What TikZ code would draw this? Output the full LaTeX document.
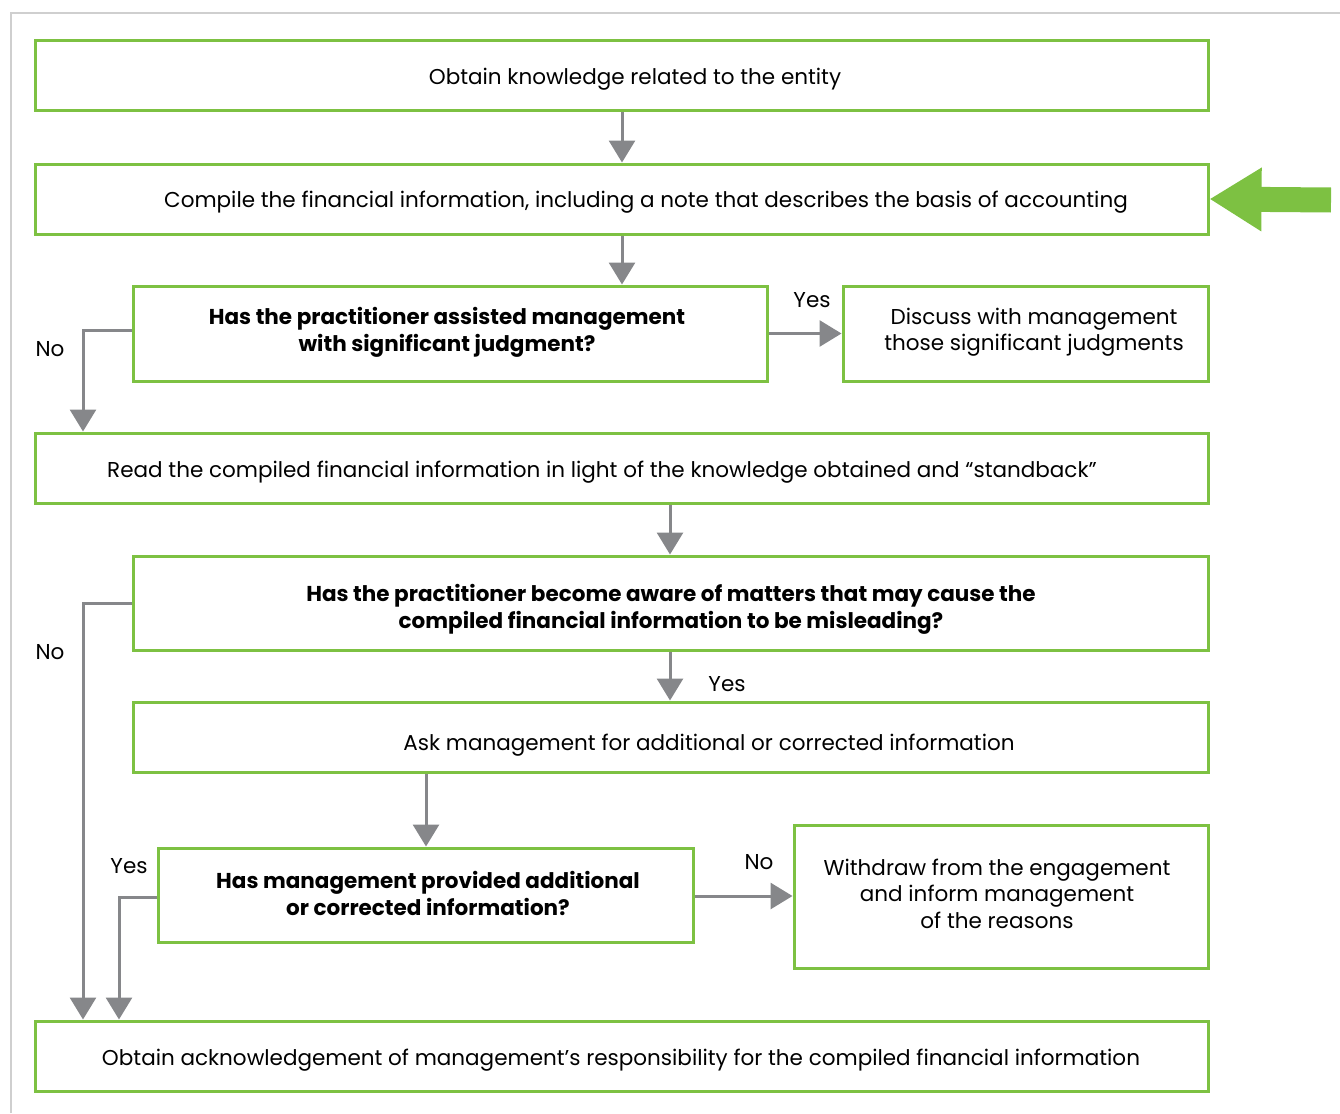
\documentclass[tikz,border=0pt]{standalone}
\usepackage{fontspec}
\setmainfont{Poppins}
\usetikzlibrary{arrows.meta}
\definecolor{grn}{HTML}{7DC142}
\definecolor{gry}{HTML}{86878A}
\definecolor{frm}{HTML}{CFCFCF}
\begin{document}
\begin{tikzpicture}[x=1pt,y=-1pt,
  box/.style={draw=grn,line width=3pt,fill=white,inner sep=0pt},
  txt/.style={inner sep=0pt,align=center,font=\fontsize{21.5}{26.5}\selectfont},
  btxt/.style={txt,font=\fontsize{21.5}{27}\selectfont\bfseries},
  arr/.style={draw=gry,line width=3pt,-{Triangle[width=26pt,length=22pt]}},
  lbl/.style={font=\fontsize{21.5}{24}\selectfont,inner sep=0pt}]
\useasboundingbox (0,0) rectangle (1340,1113);
\draw[frm,line width=2pt] (11,1113) -- (11,13) -- (1340,13);
% boxes
\node[box,minimum width=1173pt,minimum height=70pt] (b1) at (621.5,76) {};
\node[box,minimum width=1173pt,minimum height=70pt] (b2) at (621.5,199) {};
\node[box,minimum width=634pt,minimum height=95pt] (b3) at (450,333.5) {};
\node[box,minimum width=365pt,minimum height=95pt] (b4) at (1025.5,333.5) {};
\node[box,minimum width=1173pt,minimum height=70pt] (b5) at (621.5,468) {};
\node[box,minimum width=1075pt,minimum height=94pt] (b6) at (670.5,603) {};
\node[box,minimum width=1075pt,minimum height=70pt] (b7) at (670.5,737) {};
\node[box,minimum width=535pt,minimum height=94pt] (b8) at (425.5,895) {};
\node[box,minimum width=414pt,minimum height=143pt] (b9) at (1001,896.5) {};
\node[box,minimum width=1173pt,minimum height=70pt] (b10) at (621.5,1056) {};
% texts
\node[txt] (t1) at (635,79) {Obtain knowledge related to the entity};
\node[txt] (t2) at (646,202) {Compile the financial information, including a note that describes the basis of accounting};
\node[btxt] (t3) at (447,332) {Has the practitioner assisted management\\with significant judgment?};
\node[txt] (t4) at (1034,332) {Discuss with management\\those significant judgments};
\node[txt] (t5) at (602,472) {Read the compiled financial information in light of the knowledge obtained and “standback”};
\node[btxt] (t6) at (671,609) {Has the practitioner become aware of matters that may cause the\\compiled financial information to be misleading?};
\node[txt] (t7) at (709,745) {Ask management for additional or corrected information};
\node[btxt] (t8) at (428,893.5) {Has management provided additional\\or corrected information?};
\node[txt] (t9) at (997,893.5) {Withdraw from the engagement\\and inform management\\of the reasons};
\node[txt] (t10) at (621,1060) {Obtain acknowledgement of management’s responsibility for the compiled financial information};
% connectors
\draw[arr] (b1.south -| 622,0) -- (b2.north -| 622,0);
\draw[arr] (b2.south -| 622,0) -- (b3.north -| 622,0);
\draw[arr] (b3.east) -- (b4.west);
\draw[arr] (b3.west |- 0,330) -- (83,330) -- (b5.north -| 83,0);
\draw[arr] (b5.south -| 670,0) -- (b6.north -| 670,0);
\draw[arr] (b6.south -| 670,0) -- (b7.north -| 670,0);
\draw[arr] (b7.south -| 426,0) -- (b8.north -| 426,0);
\draw[arr] (b8.east |- 0,896) -- (b9.west |- 0,896);
\draw[arr] (b6.west) -- (83,603) -- (b10.north -| 83,0);
\draw[arr] (b8.west |- 0,897) -- (119,897) -- (b10.north -| 119,0);
\draw[grn,line width=25pt,-{Triangle[width=60pt,length=52pt]}] (1331,200) -- (b2.east);
% labels
\node[lbl] (l1) at (812,300) {Yes};
\node[lbl] (l2) at (50,349) {No};
\node[lbl] (l3) at (727,684) {Yes};
\node[lbl] (l4) at (759,862) {No};
\node[lbl] (l5) at (50,652) {No};
\node[lbl] (l6) at (129,866) {Yes};
\end{tikzpicture}
\end{document}
